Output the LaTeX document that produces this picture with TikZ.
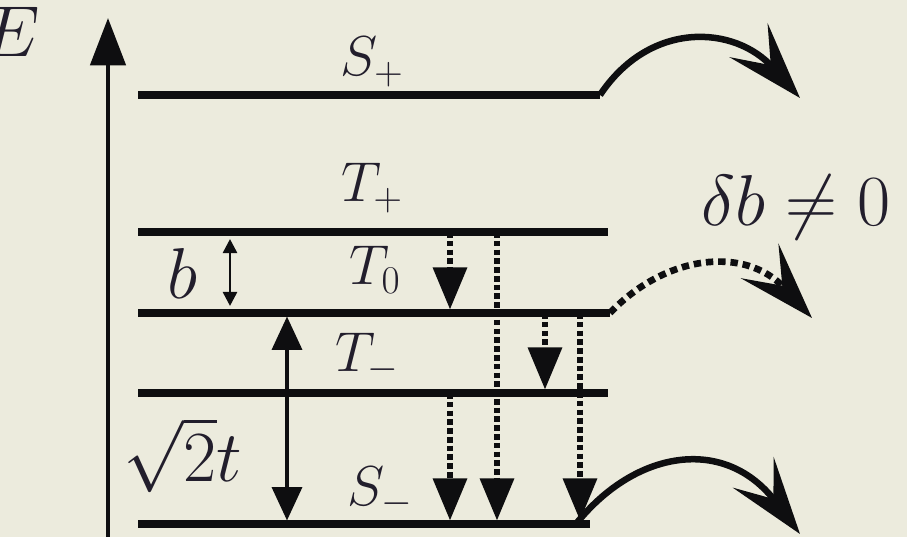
\RequirePackage{fix-cm}
\documentclass[tikz,border=0pt]{standalone}
\usepackage{xcolor}
\usepackage{tikz}
\usetikzlibrary{arrows.meta,positioning}
\definecolor{paper}{RGB}{236,235,221}
\definecolor{ink}{RGB}{14,14,16}
\definecolor{labelink}{RGB}{34,30,44}
\tikzset{
  level/.style={draw=ink, line width=4.8pt},
  axisarrow/.style={draw=ink, line width=2.6pt, -{Triangle[length=27pt,width=20pt]}},
  splitting/.style={draw=ink, line width=2.2pt,
    {Triangle[length=19pt,width=17pt]}-{Triangle[length=19pt,width=17pt]}},
  smallsplit/.style={draw=ink, line width=1.5pt,
    {Triangle[length=8pt,width=8pt]}-{Triangle[length=8pt,width=8pt]}},
  decay/.style={draw=ink, line width=3.2pt, dash pattern=on 3.2pt off 1.8pt,
    -{Triangle[length=24pt,width=19pt]}},
  leak/.style={draw=ink, line width=3.7pt,
    -{Stealth[length=44pt,width=29pt,inset=19pt]}},
  leakdotted/.style={leak, line width=3.8pt, dash pattern=on 4.2pt off 2.8pt},
  levellabel/.style={font=\fontsize{32}{36}\selectfont, text=labelink, inner sep=0pt},
  biglabel/.style={levellabel, font=\fontsize{41}{45}\selectfont}
}

\begin{document}
\begin{tikzpicture}[x=0.02cm, y=-0.02cm]
    \useasboundingbox[fill=paper] (0,0) rectangle (907,537);

    % energy axis
    \coordinate (axis-bot) at (108,537);
    \coordinate (axis-top) at (108,18);
    \draw[axisarrow] (axis-bot) -- (axis-top);
    \node[biglabel, anchor=east] (lE) at (40,32) {$E$};

    % levels
    \foreach \lv/\y/\xe in {Sp/95/600, Tp/232/608, Tz/313/610, Tm/393/608, Sm/524/590}{
        \coordinate (\lv-w) at (138,\y);
        \coordinate (\lv-e) at (\xe,\y);
        \draw[level] (\lv-w) -- (\lv-e);
    }

    \node[levellabel] (lSp) at (372,62) {$S_+$};
    \node[levellabel] (lTp) at (372,188) {$T_+$};
    \node[levellabel] (lTz) at (375,270) {$T_0$};
    \node[levellabel] (lTm) at (367,358) {$T_-$};
    \node[levellabel] (lSm) at (380,492) {$S_-$};
    \node[biglabel] (lb) at (182,273) {$b$};
    \node[biglabel] (lt) at (183,455) {$\sqrt{2}t$};
    \node[biglabel] (ldb) at (796,207) {$\delta b\neq 0$};

    % splittings
    \draw[smallsplit, shorten <=4pt, shorten >=4pt] (230,0 |- Tp-w) -- (230,0 |- Tz-w);
    \draw[splitting, shorten <=2pt, shorten >=2pt] (287,0 |- Tz-w) -- (287,0 |- Sm-w);

    % decays
    \draw[decay, shorten >=2pt] (450,0 |- Tp-w) -- (450,0 |- Tz-w);
    \draw[decay, shorten >=2pt] (497,0 |- Tp-w) -- (497,0 |- Sm-w);
    \draw[decay, shorten >=2pt] (545,0 |- Tz-w) -- (545,0 |- Tm-w);
    \draw[decay, shorten >=2pt] (580,0 |- Tz-w) -- (580,0 |- Sm-w);
    \draw[decay, shorten >=2pt] (450,0 |- Tm-w) -- (450,0 |- Sm-w);

    % leakage
    \coordinate (outSp) at (800,98);
    \coordinate (outTz) at (812,318);
    \coordinate (outSm) at (800,534);
    \draw[leak] (Sp-e) .. controls (650,20) and (735,25) .. (outSp);
    \draw[leakdotted] (Tz-e) .. controls (665,255) and (745,245) .. (outTz);
    \draw[leak] ([xshift=-8]Sm-e) .. controls (635,450) and (725,435) .. (outSm);
\end{tikzpicture}
\end{document}
